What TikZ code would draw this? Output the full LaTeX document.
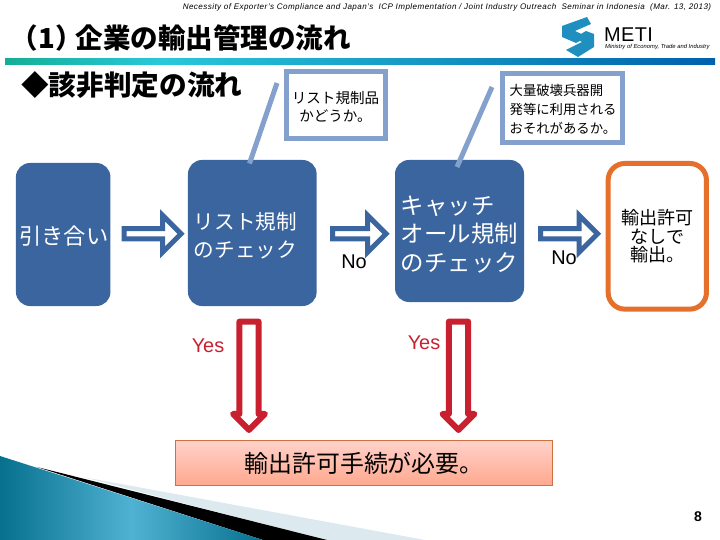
\documentclass[tikz,border=0pt]{standalone}
\usepackage{fontspec}
\usetikzlibrary{shapes.arrows}
\setmainfont{Liberation Sans}
\newfontfamily\cjkfont{Noto Sans CJK JP}
\definecolor{boxblue}{HTML}{3A659F}
\definecolor{calloutblue}{HTML}{84A0CC}
\definecolor{accentorange}{HTML}{E5702B}
\definecolor{arrowred}{HTML}{C8202F}
\definecolor{logoblue}{HTML}{1F8FC0}
\definecolor{barteal}{HTML}{14AE96}
\definecolor{barcyan}{HTML}{28C8DA}
\definecolor{barblue}{HTML}{0060AC}
\definecolor{pinktop}{HTML}{FFD2CA}
\definecolor{pinkbottom}{HTML}{FFA88E}
\definecolor{pinkedge}{HTML}{CF7040}
\definecolor{swooshdark}{HTML}{07708F}
\definecolor{swooshlight}{HTML}{50B2D2}
\definecolor{swooshpale}{HTML}{DCE9EF}
\tikzset{
  flowbox/.style={draw=none,fill=boxblue,rounded corners=0.42cm,text=white,align=left,inner sep=0pt},
  calloutbox/.style={draw=calloutblue,line width=0.15cm,fill=white,align=left,inner sep=0pt},
  calloutline/.style={calloutblue,line width=0.15cm},
  bluearrow/.style={single arrow,draw=boxblue,fill=white,line width=0.15cm,inner sep=0pt,
    minimum width=1.11cm,single arrow head extend=0.195cm},
  redarrow/.style={single arrow,draw=arrowred,fill=white,line width=0.18cm,line join=round,inner sep=0pt,
    minimum width=0.96cm,single arrow head extend=0.06cm,minimum height=3.25cm,shape border rotate=270},
  answer/.style={font=\fontsize{17pt}{20pt}\selectfont,inner sep=0pt},
}
\begin{document}
\begin{tikzpicture}[x=0.03cm,y=-0.03cm]
  \useasboundingbox (0,0) rectangle (720,540);
  % Kopfzeile
  \node[inner sep=0pt] (header) at (447,7) {\fontsize{6.9pt}{8pt}\selectfont\itshape\addfontfeature{LetterSpace=5.3}Necessity of Exporter's Compliance and Japan's\ \ ICP Implementation / Joint Industry Outreach\ \ Seminar in Indonesia\ \ (Mar. 13, 2013)};
  \node[anchor=west,inner sep=0pt] (title) at (10.5,38) {\cjkfont\bfseries\fontsize{23.5pt}{28pt}\selectfont （1）\hspace*{-0.25em}企業の輸出管理の流れ};
  \shade[left color=barteal,right color=barcyan] (5,58.5) rectangle (160,65);
  \shade[left color=barcyan,right color=barblue] (160,58.5) rectangle (715,65);
  % Logo
  \fill[logoblue] (562,26) -- (587,17) -- (591,24) -- (575,31) -- (588,37) -- (576,43) -- (562,37) -- cycle;
  \fill[logoblue] (594,34) -- (594,47) -- (578,57) -- (566,50) -- (582,42) -- (574,38) -- (586,31) -- cycle;
  \node[anchor=west,inner sep=0pt] (metilogo) at (604,34.5) {\fontsize{17pt}{20pt}\selectfont\addfontfeature{LetterSpace=2}METI};
  \node[anchor=west,inner sep=0pt] (ministry) at (605,47) {\fontsize{5pt}{6pt}\selectfont\itshape Ministry of Economy, Trade and Industry};
  \node[anchor=west,inner sep=0pt] (subtitle) at (21,85) {\cjkfont\bfseries\fontsize{23.6pt}{28pt}\selectfont ◆該非判定の流れ};
  % Kaesten
  \node[flowbox,minimum width=2.835cm,minimum height=4.29cm,font=\cjkfont\fontsize{19pt}{24pt}\selectfont] (inquiry) at (63.2,234.5) {\rule{0pt}{18pt}\hspace*{1pt}引き合い};
  \node[flowbox,minimum width=3.86cm,minimum height=4.38cm,text width=3.5cm,font=\cjkfont\fontsize{17.6pt}{23.6pt}\selectfont] (listcheck) at (252.3,233) {\rule{0pt}{19.5pt}リスト規制\\のチェック};
  \node[flowbox,minimum width=3.87cm,minimum height=4.26cm,font=\cjkfont\fontsize{20pt}{24.5pt}\selectfont] (catchall) at (459.5,231) {\rule{0pt}{21.5pt}キャッチ\\オール規制\\のチェック};
  \node[draw=accentorange,line width=0.15cm,rounded corners=0.5cm,fill=white,minimum width=2.95cm,minimum height=4.37cm,align=center,inner sep=0pt,font=\cjkfont\fontsize{15.4pt}{15.8pt}\selectfont] (noneed) at (657.3,236.3) {輸出許可\\なしで\\輸出。};
  \node[draw=pinkedge,minimum width=11.3cm,minimum height=1.36cm,inner sep=0pt,font=\cjkfont\fontsize{20.4pt}{24pt}\selectfont,top color=pinktop,bottom color=pinkbottom] (procedure) at (364,463) {輸出許可手続が必要。};
  % Hinweise
  \coordinate (listtip) at (277,83);
  \coordinate (catchtip) at (492,87);
  \draw[calloutline] (listtip) -- (249.5,163.5);
  \draw[calloutline] (catchtip) -- (457,167);
  \node[calloutbox,align=center,minimum width=2.97cm,minimum height=2.01cm,font=\cjkfont\fontsize{12.4pt}{15.6pt}\selectfont] (listnote) at (335.5,105.5) {\rule{0pt}{12.5pt}リスト規制品\\かどうか。};
  \node[calloutbox,minimum width=3.6cm,minimum height=2.07cm,text width=3.14cm,font=\cjkfont\fontsize{11.4pt}{16.3pt}\selectfont] (catchnote) at (562,108.5) {\rule{0pt}{11.5pt}大量破壊兵器開\\発等に利用される\\おそれがあるか。};
  % Pfeile
  \node[bluearrow,minimum height=1.71cm] (arrowa) at (150,233.8) {};
  \node[bluearrow,minimum height=1.6cm] (arrowb) at (356.8,233.8) {};
  \node[bluearrow,minimum height=1.71cm] (arrowc) at (566.5,233.8) {};
  \node[redarrow] (yesa) at (249,371) {};
  \node[redarrow] (yesb) at (458.5,371) {};
  \node[answer] (noa) at (354,262) {No};
  \node[answer] (nob) at (564,258) {No};
  \node[answer,text=arrowred] (yeslabela) at (208,346) {Yes};
  \node[answer,text=arrowred] (yeslabelb) at (424,343) {Yes};
  % Ecke unten links
  \fill[swooshpale] (83,477) -- (425,540) -- (325,540) -- cycle;
  \fill[black] (37,467) -- (327,540) -- (263,540) -- cycle;
  \shade[left color=swooshdark,right color=swooshdark,middle color=swooshlight] (0,456) -- (263,540) -- (0,540) -- cycle;
  \node[inner sep=0pt] (pagenum) at (698,517) {\fontsize{12pt}{14pt}\selectfont\bfseries 8};
\end{tikzpicture}
\end{document}
